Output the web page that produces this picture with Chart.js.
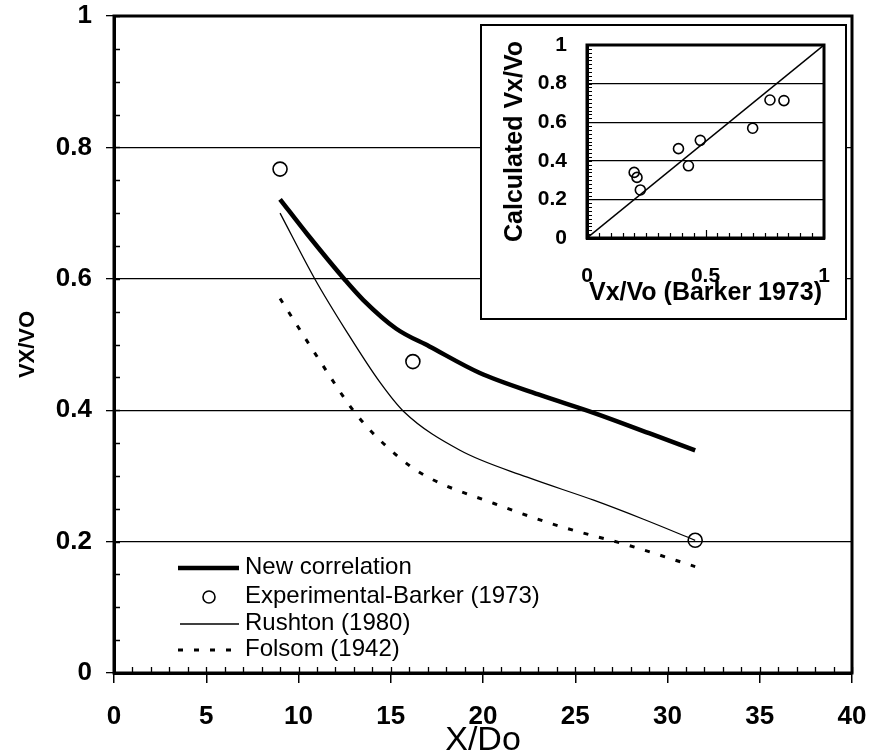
<!DOCTYPE html>
<html><head><meta charset="utf-8">
<script src="https://cdn.jsdelivr.net/npm/chart.js@4/dist/chart.umd.min.js"></script>
<style>
html,body{margin:0;padding:0;background:#fff;}
#wrap{position:relative;width:870px;height:754px;overflow:hidden;}
#main{position:absolute;left:0;top:0;}
#insetBox{position:absolute;left:480px;top:24px;width:363px;height:292px;border:2px solid #000;background:#fff;}
#inset{display:block;}
</style></head><body>
<div id="wrap">
<canvas id="main" width="870" height="754"></canvas>
<div id="insetBox"><canvas id="inset" width="363" height="292"></canvas></div>
</div>
<script>
// ---- Main chart data ----
const newCorrX = [9, 10.5, 12.5, 13.5, 15.3, 17.1, 19.8, 23, 26, 29, 31.5];
const newCorrY = [0.721, 0.667, 0.599, 0.568, 0.524, 0.497, 0.457, 0.424, 0.396, 0.365, 0.339];
const rushtonX = [9, 10.9, 12.6, 14.4, 15.7, 18.75, 22.4, 26, 28.7, 31.5];
const rushtonY = [0.700, 0.599, 0.520, 0.443, 0.398, 0.339, 0.298, 0.263, 0.234, 0.202];
const folsomX = [9, 11.3, 13.15, 15.5, 16.95, 20.6, 24.2, 27.8, 31.5];
const folsomY = [0.570, 0.469, 0.393, 0.327, 0.299, 0.258, 0.223, 0.195, 0.162];
const barkerX = [9, 16.2, 31.5];
const barkerY = [0.767, 0.474, 0.202];
const seriesLabels = ['New correlation', 'Experimental-Barker (1973)', 'Rushton (1980)', 'Folsom (1942)'];
// ---- Inset data ----
const insetBarker = [0.199, 0.211, 0.225, 0.386, 0.428, 0.478, 0.699, 0.772, 0.831];
const insetCalc   = [0.340, 0.314, 0.249, 0.463, 0.374, 0.506, 0.569, 0.715, 0.712];
const parityX = [0, 1];
const parityY = [0, 1];

const SANS = "'Liberation Sans', Arial, Helvetica, sans-serif";
const NARROW = "'Liberation Sans Narrow', 'Arial Narrow', 'Liberation Sans', sans-serif";
const toXY = (xs, ys) => xs.map((x, i) => ({x: x, y: ys[i]}));
const fmt = v => String(Math.round(v * 100) / 100);
const noPadX = s => { s.paddingLeft = 0; s.paddingRight = 0; };
const noPadY = s => { s.paddingTop = 0; s.paddingBottom = 0; };

const frameAndTicks = {
  id: 'frameAndTicks',
  afterDraw(chart, args, opts) {
    const {ctx, chartArea: a, scales} = chart;
    const xs = scales.x, ys = scales.y;
    ctx.save();
    ctx.strokeStyle = '#000';
    ctx.lineWidth = opts.minorWidth;
    ctx.beginPath();
    for (let v = xs.min; v <= xs.max + 1e-9; v += opts.xMinor) {
      const p = Math.round(xs.getPixelForValue(v)) + 0.5;
      ctx.moveTo(p, a.bottom); ctx.lineTo(p, a.bottom - opts.minorLen);
    }
    for (let v = ys.min; v <= ys.max + 1e-9; v += opts.yMinor) {
      const p = Math.round(ys.getPixelForValue(v)) + 0.5;
      ctx.moveTo(a.left, p); ctx.lineTo(a.left + opts.minorLen, p);
    }
    ctx.stroke();
    ctx.lineWidth = opts.frameWidth;
    ctx.strokeRect(a.left, a.top, a.right - a.left, a.bottom - a.top);
    ctx.restore();
  }
};

const legendPlugin = {
  id: 'customLegend',
  afterDraw(chart) {
    const {ctx} = chart;
    ctx.save();
    ctx.fillStyle = '#000';
    ctx.strokeStyle = '#000';
    ctx.font = "24px " + SANS;
    ctx.textBaseline = 'middle';
    const x0 = 178, x1 = 239, tx = 245;
    const rows = [568, 597, 624, 650];
    ctx.lineWidth = 4.5; ctx.setLineDash([]);
    ctx.beginPath(); ctx.moveTo(x0, rows[0]); ctx.lineTo(x1, rows[0]); ctx.stroke();
    ctx.lineWidth = 1.6;
    ctx.beginPath(); ctx.arc(209, rows[1], 6, 0, Math.PI * 2); ctx.stroke();
    ctx.lineWidth = 1.3;
    ctx.beginPath(); ctx.moveTo(x0 + 2, rows[2]); ctx.lineTo(x1, rows[2]); ctx.stroke();
    ctx.lineWidth = 3; ctx.setLineDash([5, 11]);
    ctx.beginPath(); ctx.moveTo(x0, rows[3]); ctx.lineTo(x1, rows[3]); ctx.stroke();
    ctx.setLineDash([]);
    seriesLabels.forEach((t, i) => ctx.fillText(t, tx, rows[i] - 1));
    ctx.restore();
  }
};

new Chart(document.getElementById('main'), {
  type: 'line',
  data: {
    datasets: [
      {label: seriesLabels[1], data: toXY(barkerX, barkerY), showLine: false,
       pointRadius: 7, pointBorderWidth: 1.6, pointBackgroundColor: 'rgba(255,255,255,0)', pointBorderColor: '#000', pointStyle: 'circle'},
      {label: seriesLabels[0], data: toXY(newCorrX, newCorrY), borderColor: '#000', borderWidth: 4.5,
       pointRadius: 0, cubicInterpolationMode: 'monotone', fill: false},
      {label: seriesLabels[2], data: toXY(rushtonX, rushtonY), borderColor: '#000', borderWidth: 1.3,
       pointRadius: 0, cubicInterpolationMode: 'monotone', fill: false},
      {label: seriesLabels[3], data: toXY(folsomX, folsomY), borderColor: '#000', borderWidth: 3,
       borderDash: [5, 11], pointRadius: 0, cubicInterpolationMode: 'monotone', fill: false}
    ]
  },
  options: {
    responsive: false, animation: false, devicePixelRatio: 1,
    layout: {padding: {left: 0, right: 18, top: 16, bottom: 0}},
    plugins: {legend: {display: false}, tooltip: {enabled: false},
      frameAndTicks: {xMinor: 1, yMinor: 0.05, minorLen: 6, minorWidth: 1.3, frameWidth: 3}},
    scales: {
      x: {type: 'linear', min: 0, max: 40,
        ticks: {stepSize: 5, color: '#000', padding: 18, maxRotation: 0, font: {family: NARROW, size: 26, weight: 'bold'}, callback: fmt},
        grid: {drawOnChartArea: false, drawTicks: true, tickLength: 10, color: '#000', lineWidth: 1.5},
        border: {display: true, width: 3, color: '#000'},
        title: {display: true, text: 'X/Do', color: '#000', font: {family: NARROW, size: 34, lineHeight: 1}, padding: {top: 0, bottom: -4}},
        afterFit(s) { s.height = 81; noPadX(s); }
      },
      y: {min: 0, max: 1,
        ticks: {stepSize: 0.2, color: '#000', padding: 14, font: {family: SANS, size: 26, weight: 'bold'}, callback: fmt},
        grid: {drawOnChartArea: true, drawTicks: true, tickLength: 8, color: '#000', lineWidth: 1.3},
        border: {display: true, width: 3, color: '#000'},
        title: {display: true, text: 'VX/VO', color: '#000', font: {family: SANS, size: 22, weight: 'bold', lineHeight: 1.2}, padding: {top: 15, bottom: 0}},
        afterFit(s) { s.width = 114; noPadY(s); }
      }
    }
  },
  plugins: [frameAndTicks, legendPlugin]
});

// ---- Inset ----
const insetFrame = {
  id: 'insetFrame',
  afterDraw(chart) {
    const {ctx, chartArea: a, scales} = chart;
    const xs = scales.x, ys = scales.y;
    ctx.save();
    ctx.strokeStyle = '#000';
    ctx.lineWidth = 1.2;
    ctx.beginPath();
    for (let i = 0; i <= 50; i++) {
      const p = Math.round(ys.getPixelForValue(i * 0.02)) + 0.5;
      ctx.moveTo(a.left, p); ctx.lineTo(a.left + 5, p);
    }
    for (let i = 0; i <= 20; i++) {
      const p = Math.round(xs.getPixelForValue(i * 0.05)) + 0.5;
      const len = (i % 10 === 0) ? 8 : 5;
      ctx.moveTo(p, a.bottom); ctx.lineTo(p, a.bottom - len);
    }
    ctx.stroke();
    ctx.lineWidth = 3;
    ctx.strokeRect(a.left, a.top, a.right - a.left, a.bottom - a.top);
    ctx.restore();
  }
};

new Chart(document.getElementById('inset'), {
  type: 'line',
  data: {
    datasets: [
      {label: 'Experimental-Barker (1973)', data: toXY(insetBarker, insetCalc), showLine: false,
       pointRadius: 5, pointBorderWidth: 1.6, pointBackgroundColor: 'rgba(255,255,255,0)', pointBorderColor: '#000'},
      {label: 'Parity', data: toXY(parityX, parityY), borderColor: '#000', borderWidth: 1.5, pointRadius: 0, tension: 0}
    ]
  },
  options: {
    responsive: false, animation: false, devicePixelRatio: 1,
    layout: {padding: {left: 0, right: 21, top: 19, bottom: 0}},
    plugins: {legend: {display: false}, tooltip: {enabled: false}},
    scales: {
      x: {type: 'linear', min: 0, max: 1,
        ticks: {stepSize: 0.5, color: '#000', padding: 26, maxRotation: 0, font: {family: SANS, size: 21, weight: 'bold'}, callback: fmt},
        grid: {display: true, drawOnChartArea: false, drawTicks: false, color: '#000'},
        border: {display: true, width: 3, color: '#000'},
        title: {display: true, text: 'Vx/Vo (Barker 1973)', color: '#000', font: {family: SANS, size: 25, weight: 'bold', lineHeight: 1.2}, padding: {top: 0, bottom: 10}},
        afterFit(s) { s.height = 80; noPadX(s); }
      },
      y: {min: 0, max: 1,
        ticks: {stepSize: 0.2, color: '#000', padding: 20, font: {family: SANS, size: 21, weight: 'bold'}, callback: fmt},
        grid: {drawOnChartArea: true, drawTicks: false, color: '#000', lineWidth: 1.3},
        border: {display: true, width: 3, color: '#000'},
        title: {display: true, text: 'Calculated Vx/Vo', color: '#000', font: {family: SANS, size: 25, weight: 'bold', lineHeight: 1.2}, padding: {top: 18, bottom: 0}},
        afterFit(s) { s.width = 105; noPadY(s); }
      }
    }
  },
  plugins: [insetFrame]
});
</script>
</body></html>
